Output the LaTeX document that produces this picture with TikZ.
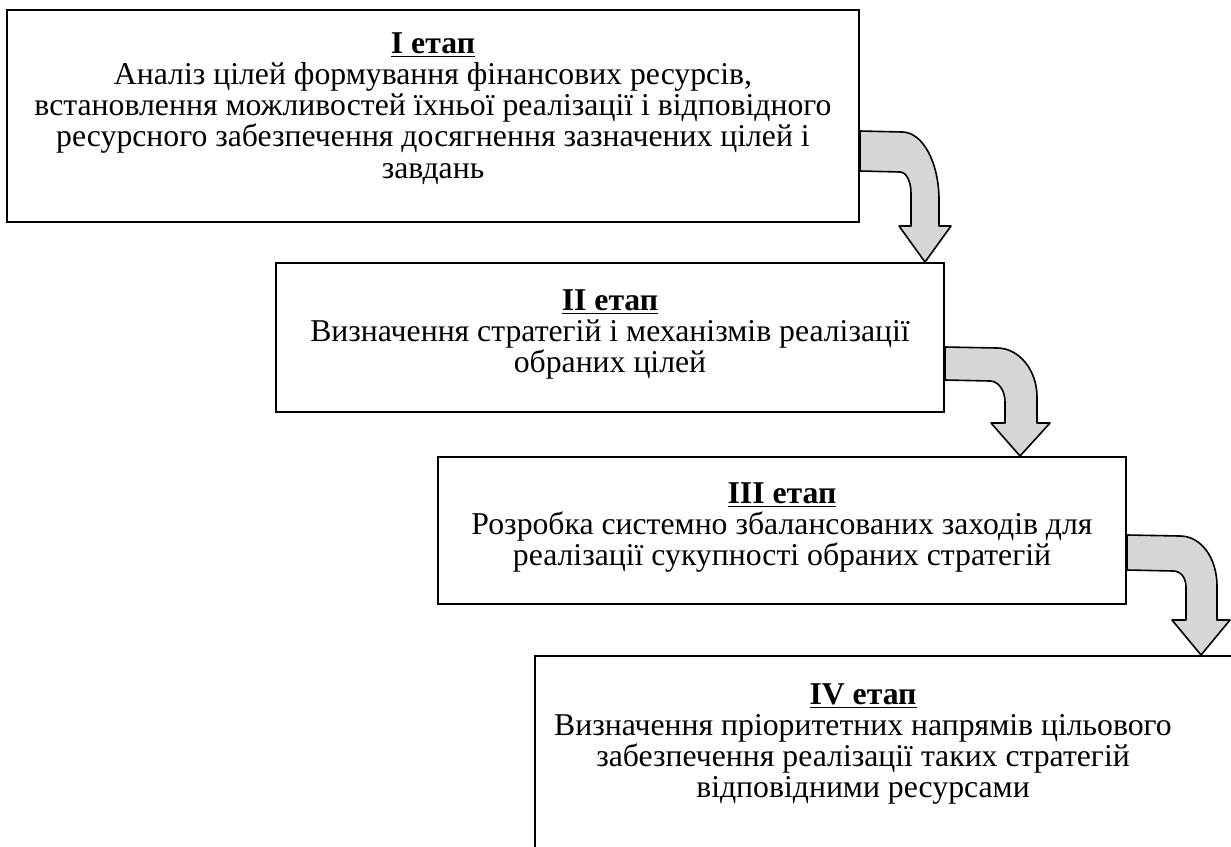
\documentclass[tikz,border=0pt]{standalone}
\usepackage{fontspec}
\setmainfont{Liberation Serif}
\usetikzlibrary{positioning,fit,calc}

\newcommand{\stagefont}{\fontsize{23.8}{23.3}\selectfont\lineskiplimit -8pt\relax}
\newcommand{\stagetitle}[1]{\underline{\textbf{#1}}}
\tikzset{every picture/.style={line width=0.75pt}}
\tikzset{
  stagebox/.style={draw, line width=1.5pt, inner sep=0pt},
  stagetext/.style={align=center, inner sep=0pt, font=\stagefont},
  bentarrow/.style={draw, line width=1.2pt, fill=black!16, line join=round},
}

\begin{document}
\begin{tikzpicture}[x=0.75pt,y=0.75pt,yscale=-1,xscale=1]
        \useasboundingbox (0,0) rectangle (1231,846);
        \clip (0,0) rectangle (1231,846);

        %Stage boxes
        \node[stagebox, fit={(7,10)(859,222)}] (st1) {};
        \node[stagebox, fit={(276,263)(944,412)}] (st2) {};
        \node[stagebox, fit={(438,457)(1126,604)}] (st3) {};
        \node[stagebox, fit={(535,656)(1260,880)}] (st4) {};

        %Bent arrow I -> II
        \draw[bentarrow] ($(st1.north east)+(0,122)$) -- (902,132) .. controls (923,132) and (939,163) .. (939,200) -- (939,226) -- (951,226) -- (925,0 |- st2.north) -- (899,226) -- (911,226) -- (911,193) .. controls (911,181) and (906,172) .. (900,172) -- ($(st1.north east)+(0,162)$) -- cycle;
        %Bent arrow II -> III
        \draw[bentarrow] ($(st2.north east)+(0,85)$) -- (997,348) .. controls (1019,348) and (1037,370) .. (1037,397) -- (1037,423) -- (1050,423) -- (1020,0 |- st3.north) -- (991,423) -- (1005,423) -- (1005,402) .. controls (1005,390) and (998,381) .. (990,381) -- ($(st2.north east)+(0,118)$) -- cycle;
        %Bent arrow III -> IV
        \draw[bentarrow] ($(st3.north east)+(0,79)$) -- (1180,536) .. controls (1201,536) and (1217,558) .. (1217,586) -- (1217,620) -- (1230,620) -- (1201,0 |- st4.north) -- (1172,620) -- (1186,620) -- (1186,587) .. controls (1186,578) and (1181,571) .. (1173,571) -- ($(st3.north east)+(0,114)$) -- cycle;

        % Text Node
        \node[stagetext, anchor=north] (t1) at (433,32.5) {\stagetitle{I етап}\\Аналіз цілей формування фінансових ресурсів,\\встановлення можливостей їхньої реалізації і відповідного\\ресурсного забезпечення досягнення зазначених цілей і\\завдань};
        % Text Node
        \node[stagetext, anchor=north] (t2) at (610,289.5) {\stagetitle{II етап}\\Визначення стратегій і механізмів реалізації\\обраних цілей};
        % Text Node
        \node[stagetext, anchor=north] (t3) at (782,482.5) {\stagetitle{III етап}\\Розробка системно збалансованих заходів для\\реалізації сукупності обраних стратегій};
        % Text Node
        \node[stagetext, anchor=north] (t4) at (863,683.5) {\stagetitle{IV етап}\\Визначення пріоритетних напрямів цільового\\забезпечення реалізації таких стратегій\\відповідними ресурсами};

\end{tikzpicture}
\end{document}
